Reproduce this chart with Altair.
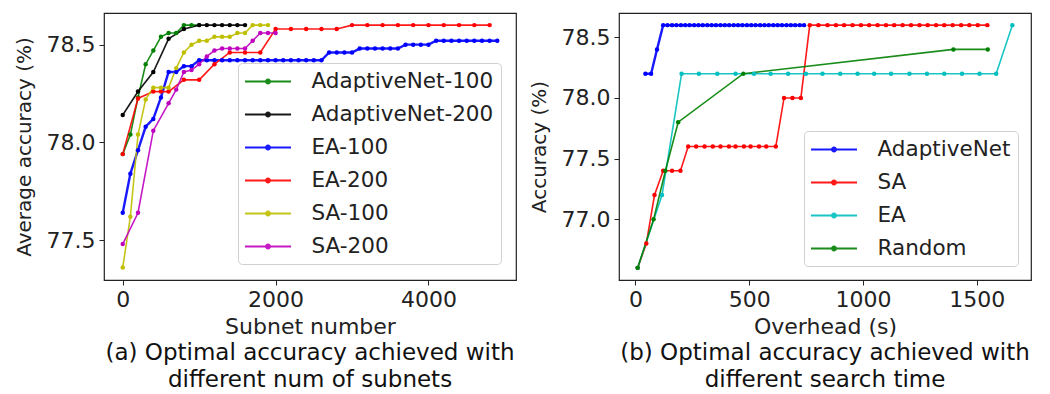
import altair as alt
import pandas as pd

# ---------------- Left panel: accuracy vs number of subnets ----------------
left_names = ["AdaptiveNet-100", "AdaptiveNet-200", "EA-100", "EA-200", "SA-100", "SA-200"]
left_colors = ["#008000", "#000000", "#0000ff", "#ff0000", "#bfbf00", "#bf00bf"]

an100_x = [0, 100, 200, 300, 400, 500, 600, 700, 800, 900, 1000]
an100_y = [77.94, 78.04, 78.23, 78.40, 78.47, 78.54, 78.56, 78.56, 78.60, 78.60, 78.60]

an200_x = [0, 200, 400, 600, 800, 1000, 1100, 1200, 1300, 1400, 1500, 1600]
an200_y = [78.14, 78.26, 78.36, 78.53, 78.58, 78.60, 78.60, 78.60, 78.60, 78.60, 78.60, 78.60]

ea100_x = [0, 100, 200, 300, 400, 500, 600, 700, 800, 900,
           1000, 1100, 1200, 1300, 1400, 1500, 1600, 1700, 1800, 1900,
           2000, 2100, 2200, 2300, 2400, 2500, 2600, 2700, 2800, 2900,
           3000, 3100, 3200, 3300, 3400, 3500, 3600, 3700, 3800, 3900,
           4000, 4100, 4200, 4300, 4400, 4500, 4600, 4700, 4800, 4900]
ea100_y = [77.64, 77.84, 77.96, 78.08, 78.12, 78.23, 78.36, 78.36, 78.39, 78.39,
           78.42, 78.42, 78.42, 78.42, 78.42, 78.42, 78.42, 78.42, 78.42, 78.42,
           78.42, 78.42, 78.42, 78.42, 78.42, 78.42, 78.42, 78.46, 78.46, 78.46,
           78.46, 78.48, 78.48, 78.48, 78.48, 78.48, 78.48, 78.50, 78.50, 78.50,
           78.50, 78.52, 78.52, 78.52, 78.52, 78.52, 78.52, 78.52, 78.52, 78.52]

ea200_x = [0, 200, 400, 500, 600, 800, 1000, 1200, 1400, 1600, 1800,
           2000, 2200, 2400, 2600, 2800, 3000, 3200, 3400, 3600, 3800,
           4000, 4200, 4400, 4600, 4800]
ea200_y = [77.94, 78.225, 78.26, 78.26, 78.26, 78.32, 78.32, 78.40, 78.46, 78.46, 78.46,
           78.58, 78.58, 78.58, 78.58, 78.58, 78.60, 78.60, 78.60, 78.60, 78.60,
           78.60, 78.60, 78.60, 78.60, 78.60]

sa100_x = [0, 100, 200, 300, 400, 500, 600, 700, 800, 900,
           1000, 1100, 1200, 1300, 1400, 1500, 1600, 1700, 1800, 1900]
sa100_y = [77.36, 77.62, 78.04, 78.22, 78.28, 78.28, 78.28, 78.38, 78.46, 78.50,
           78.52, 78.52, 78.54, 78.54, 78.54, 78.56, 78.56, 78.60, 78.60, 78.60]

sa200_x = [0, 200, 400, 600, 700, 800, 900, 1000, 1100, 1200,
           1300, 1400, 1500, 1600, 1700, 1800, 1900, 2000]
sa200_y = [77.48, 77.64, 78.06, 78.20, 78.27, 78.36, 78.37, 78.40, 78.44, 78.47,
           78.48, 78.48, 78.48, 78.48, 78.52, 78.56, 78.56, 78.56]

# ---------------- Right panel: accuracy vs search overhead ----------------
right_names = ["AdaptiveNet", "SA", "EA", "Random"]
right_colors = ["#0000ff", "#ff0000", "#00bfbf", "#008000"]

adn_x = [44, 69, 95, 122, 141, 161, 180, 200, 219, 238, 258, 277, 296, 316, 335,
         354, 374, 393, 412, 432, 451, 470, 490, 509, 528, 548, 567, 586, 606,
         625, 644, 664, 683, 702, 722, 741]
adn_y = [78.2, 78.2, 78.4, 78.6, 78.6, 78.6, 78.6, 78.6, 78.6, 78.6, 78.6, 78.6,
         78.6, 78.6, 78.6, 78.6, 78.6, 78.6, 78.6, 78.6, 78.6, 78.6, 78.6, 78.6,
         78.6, 78.6, 78.6, 78.6, 78.6, 78.6, 78.6, 78.6, 78.6, 78.6, 78.6, 78.6]

sa_x = [10, 48, 84, 122, 161, 198, 232, 267, 304, 340, 374, 411, 440, 477, 506,
        543, 575, 617, 653, 690, 727, 766, 804, 844, 881, 917, 954, 991, 1027,
        1064, 1101, 1137, 1174, 1211, 1248, 1284, 1321, 1357, 1394, 1431, 1467,
        1504, 1546]
sa_y = [76.6, 76.8, 77.2, 77.4, 77.4, 77.4, 77.6, 77.6, 77.6, 77.6, 77.6, 77.6,
        77.6, 77.6, 77.6, 77.6, 77.6, 77.6, 78.0, 78.0, 78.0, 78.6, 78.6, 78.6,
        78.6, 78.6, 78.6, 78.6, 78.6, 78.6, 78.6, 78.6, 78.6, 78.6, 78.6, 78.6,
        78.6, 78.6, 78.6, 78.6, 78.6, 78.6, 78.6]

ea_x = [10, 117, 203, 279, 360, 440, 521, 594, 671, 749, 822, 900, 976, 1049,
        1123, 1204, 1281, 1357, 1435, 1512, 1585, 1656]
ea_y = [76.6, 77.2, 78.2, 78.2, 78.2, 78.2, 78.2, 78.2, 78.2, 78.2, 78.2, 78.2,
        78.2, 78.2, 78.2, 78.2, 78.2, 78.2, 78.2, 78.2, 78.2, 78.6]

rnd_x = [10, 80, 132, 188, 474, 1397, 1548]
rnd_y = [76.6, 77.0, 77.4, 77.8, 78.2, 78.4, 78.4]

FONT = "DejaVu Sans"
LEGEND_SYMBOL = ("M-2,-0.09H2V0.09H-2Z "
                 "M0.26,0A0.26,0.26,0,1,1,-0.26,0A0.26,0.26,0,1,1,0.26,0Z")


def frame(pairs):
    parts = []
    for name, xs, ys in pairs:
        parts.append(pd.DataFrame({"series": name, "x": xs, "y": ys}))
    return pd.concat(parts, ignore_index=True)


left_df = frame([
    ("AdaptiveNet-100", an100_x, an100_y),
    ("AdaptiveNet-200", an200_x, an200_y),
    ("EA-100", ea100_x, ea100_y),
    ("EA-200", ea200_x, ea200_y),
    ("SA-100", sa100_x, sa100_y),
    ("SA-200", sa200_x, sa200_y),
])
right_df = frame([
    ("AdaptiveNet", adn_x, adn_y),
    ("SA", sa_x, sa_y),
    ("EA", ea_x, ea_y),
    ("Random", rnd_x, rnd_y),
])


def panel(df, names, colors, xdom, ydom, xticks, yticks, xtitle, ytitle,
          caption, lx, ly, thick):
    x = alt.X("x:Q", scale=alt.Scale(domain=xdom, nice=False, zero=False),
              axis=alt.Axis(values=xticks, title=xtitle, format="d"))
    y = alt.Y("y:Q", scale=alt.Scale(domain=ydom, nice=False, zero=False),
              axis=alt.Axis(values=yticks, title=ytitle, format=".1f"))
    legend = alt.Legend(
        title=None, orient="none", legendX=lx, legendY=ly,
        symbolType=LEGEND_SYMBOL, symbolSize=529, symbolStrokeWidth=0,
        symbolOffset=11.5, labelOffset=32, labelFontSize=21.5, labelFont=FONT,
        labelColor="#222222", padding=7, rowPadding=11,
        fillColor="white", strokeColor="#d0d0d0", cornerRadius=4,
        labelLimit=400,
    )
    color = alt.Color("series:N", sort=names,
                      scale=alt.Scale(domain=names, range=colors), legend=legend)
    base = alt.Chart(df)
    line = base.mark_line(opacity=0.9).encode(
        x=x, y=y, color=color,
        strokeWidth=alt.when(alt.datum.series == thick).then(alt.value(2.4)).otherwise(alt.value(1.6)),
    )
    pts = base.mark_point(filled=True, size=20, opacity=1).encode(
        x=x, y=y, color=color,
    )
    return alt.layer(line, pts).properties(
        width=412, height=267,
        title=alt.Title(caption, orient="bottom", anchor="middle", fontSize=23,
                        fontWeight="normal", font=FONT, color="#111111",
                        lineHeight=27, offset=5),
    )


left = panel(left_df, left_names, left_colors, [-245, 5145], [77.296, 78.662],
             [0, 2000, 4000], [77.5, 78.0, 78.5], "Subnet number",
             "Average accuracy (%)",
             ["(a) Optimal accuracy achieved with", "different num of subnets"],
             134, 50, "EA-100")
right = panel(right_df, right_names, right_colors, [-72, 1738], [76.5, 78.7],
              [0, 500, 1000, 1500], [77.0, 77.5, 78.0, 78.5], "Overhead (s)",
              "Accuracy (%)",
              ["(b) Optimal accuracy achieved with", "different search time"],
              185, 118, "AdaptiveNet")

chart = alt.hconcat(left, right, spacing=103, bounds="flush").resolve_scale(
    color="independent",
).resolve_legend(
    color="independent",
).properties(
    padding={"left": 13, "top": 12, "right": 0, "bottom": 0},
).configure_view(
    stroke="#222222", strokeWidth=1.2,
).configure_axis(
    domain=False, grid=False, tickColor="#222222", tickSize=5, tickWidth=1,
    labelFont=FONT, labelFontSize=22, labelColor="#222222", labelPadding=4,
    titleFont=FONT, titleFontSize=20, titleFontWeight="normal",
    titleColor="#222222", titlePadding=12,
).configure_axisX(titlePadding=6, titleFontSize=22)

chart.save("out.html", embed_options={"renderer": "svg", "actions": False})
